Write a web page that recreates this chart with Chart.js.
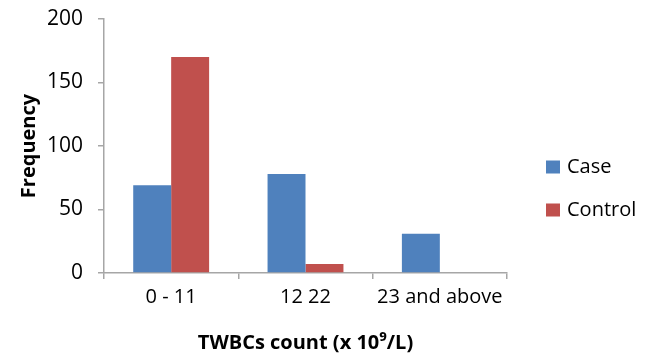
<!DOCTYPE html>
<html>
<head>
<meta charset="utf-8">
<script src="https://cdn.jsdelivr.net/npm/chart.js@4/dist/chart.umd.min.js"></script>
<style>
  html, body { margin: 0; padding: 0; background: #fff; }
</style>
</head>
<body>
<canvas id="chart" width="645" height="363"></canvas>
<script>
const categories = ['0 - 11', '12 22', '23 and above'];
const caseCounts = [69, 78, 31];
const controlCounts = [170, 7, 0];
const seriesNames = ['Case', 'Control'];
const seriesColors = ['#4F81BD', '#C0504D'];

const axisColor = '#a6a6a6';
const fontFamily = '"Open Sans", sans-serif';

// legend drawn by hand to sit where the original one sits
const sideLegend = {
    id: 'sideLegend',
    afterDraw(chart) {
        const ctx = chart.ctx;
        ctx.save();
        ctx.font = '20px ' + fontFamily;
        ctx.textBaseline = 'middle';
        ctx.fillStyle = '#000';
        chart.data.datasets.forEach((ds, i) => {
            const y = 167 + i * 43;
            ctx.fillStyle = ds.backgroundColor;
            ctx.fillRect(546, y - 6.5, 14, 13);
            ctx.fillStyle = '#000';
            ctx.fillText(ds.label, 567, y);
        });
        ctx.restore();
    }
};

new Chart(document.getElementById('chart'), {
    type: 'bar',
    data: {
        labels: categories,
        datasets: [
            {
                label: seriesNames[0],
                data: caseCounts,
                backgroundColor: seriesColors[0],
                barPercentage: 1,
                categoryPercentage: 0.565
            },
            {
                label: seriesNames[1],
                data: controlCounts,
                backgroundColor: seriesColors[1],
                barPercentage: 1,
                categoryPercentage: 0.565
            }
        ]
    },
    options: {
        responsive: false,
        animation: false,
        layout: { padding: { top: 19, right: 138, bottom: 0, left: 0 } },
        plugins: {
            legend: { display: false },
            tooltip: { enabled: false }
        },
        scales: {
            x: {
                grid: { display: true, drawOnChartArea: false, offset: true, tickLength: 6, color: axisColor, lineWidth: 1.5 },
                border: { color: axisColor, width: 1.5 },
                ticks: { color: '#000', font: { family: fontFamily, size: 20 }, padding: 6 },
                title: {
                    display: true,
                    text: 'TWBCs count (x 10\u2079/L)',
                    color: '#000',
                    font: { family: fontFamily, size: 20, weight: 'bold' },
                    padding: { top: 6, bottom: 8 }
                },
                afterFit(scale) {
                    scale.height = 90;
                    scale.paddingLeft = 0;
                    scale.paddingRight = 0;
                }
            },
            y: {
                min: 0,
                max: 200,
                grid: { display: true, drawOnChartArea: false, tickLength: 6, color: axisColor, lineWidth: 1.5 },
                border: { color: axisColor, width: 1.5 },
                ticks: { stepSize: 50, color: '#000', font: { family: fontFamily, size: 21 }, padding: 15 },
                title: {
                    display: true,
                    text: 'Frequency',
                    color: '#000',
                    font: { family: fontFamily, size: 20, weight: 'bold' },
                    padding: { top: 17, bottom: 4 }
                },
                afterFit(scale) {
                    scale.width = 104;
                    scale.paddingTop = 0;
                    scale.paddingBottom = 0;
                }
            }
        }
    },
    plugins: [sideLegend]
});
</script>
</body>
</html>
